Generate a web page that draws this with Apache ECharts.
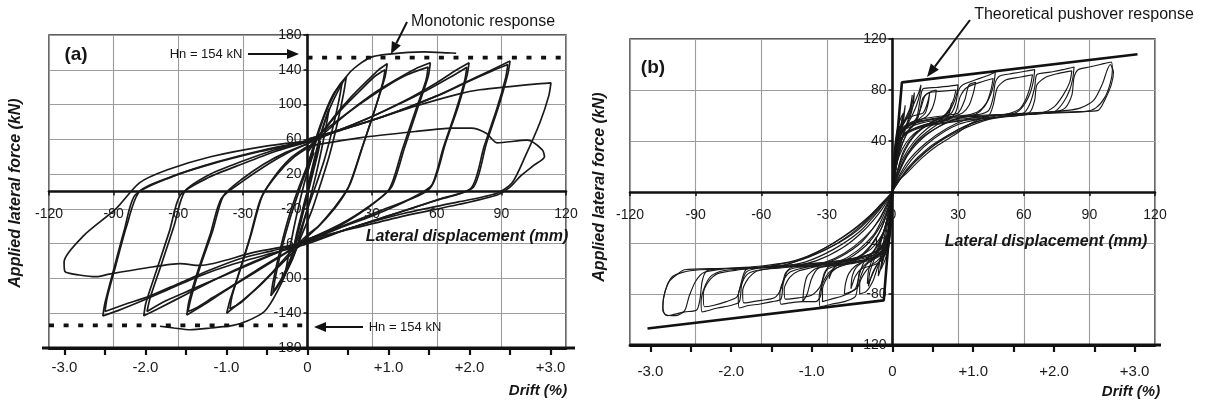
<!DOCTYPE html>
<html>
<head>
<meta charset="utf-8">
<script src="https://cdn.jsdelivr.net/npm/echarts@6.0.0/dist/echarts.min.js"></script>
<style>
  html, body { margin: 0; padding: 0; background: #fff; }
  #chart { width: 1208px; height: 404px; }
</style>
</head>
<body>
<div id="chart"></div>
<script>
// ---------- Axis ticks ----------
const dispTicksMm = [-120, -90, -60, -30, 0, 30, 60, 90, 120];
const forceTicksA = [-180, -140, -100, -60, -20, 20, 60, 100, 140, 180];
const forceTicksB = [-120, -80, -40, 0, 40, 80, 120];
const driftTicks = [-3, -2.5, -2, -1.5, -1, -0.5, 0, 0.5, 1, 1.5, 2, 2.5, 3];
const driftLabels = [-3, -2, -1, 0, 1, 2, 3];
const mmPerDriftA = 37.6;   // mm of lateral displacement per 1 % drift, wall (a)
const mmPerDriftB = 36.9;   // mm of lateral displacement per 1 % drift, wall (b)
const nominalCapacity = 154; // Hn, kN

// ---------- Wall (a): cyclic loops [displacement mm, force kN] ----------
const loopA_06 = [[0,0],[2,22],[4,42],[6,58],[5,46],[3,26],[1,6],[-1,-14],[-3,-34],[-5,-52],[-6,-60],[-5,-48],[-3,-28],[-1,-8],[0,0]];
const loopA_10 = [[0,5],[3,36],[6,65],[9,88],[10,95],[9,80],[6.5,48],[4,20],[1,-10],[-2,-38],[-5,-64],[-8,-82],[-10,-90],[-9,-76],[-6.5,-44],[-4,-16],[-1,14],[2,38],[3,45]];
const loopA_18 = [[0,22],[4,58],[8,88],[12,110],[15,123],[18,132],[17,116],[14,80],[10,40],[6,8],[2,-22],[-3,-52],[-7,-78],[-11,-98],[-14,-110],[-17,-120],[-16,-104],[-13,-70],[-9,-32],[-5,-2],[-1,24],[2,45],[5,65]];
const loopA_16 = [[0,28],[4,62],[8,90],[12,112],[16,125],[15,110],[12,76],[8,38],[4,8],[0,-20],[-4,-50],[-8,-78],[-12,-100],[-16,-116],[-15,-100],[-12,-66],[-8,-30],[-4,0],[0,28]];
const loopA_37 = [[0,45],[6,65],[12,85],[20,108],[28,128],[33,140],[37,147],[36,132],[32,100],[26,55],[20,10],[14,-15],[6,-38],[0,-52],[-6,-68],[-14,-88],[-22,-108],[-30,-125],[-35,-135],[-37.5,-140],[-36,-125],[-32,-95],[-27,-55],[-22,-10],[-16,15],[-8,38],[0,52]];
const loopA_36 = [[0,48],[8,72],[16,95],[24,115],[31,132],[36,140],[35,126],[31,92],[25,48],[19,5],[12,-20],[5,-40],[0,-50],[-8,-70],[-16,-92],[-24,-112],[-31,-128],[-36,-135],[-35,-120],[-31,-88],[-26,-48],[-21,-5],[-14,20],[-6,40],[0,50]];
const loopA_57 = [[0,50],[10,72],[20,93],[32,115],[42,130],[50,141],[57,148],[56,132],[51,95],[45,50],[39,5],[30,-15],[18,-35],[8,-48],[0,-55],[-10,-70],[-22,-88],[-34,-107],[-44,-122],[-51,-133],[-55.5,-138],[-54,-122],[-50,-88],[-44,-45],[-39,-5],[-30,15],[-20,32],[-10,45],[0,55]];
const loopA_56 = [[0,55],[12,78],[24,100],[36,120],[46,134],[56,143],[55,128],[50,92],[44,48],[38,3],[28,-18],[15,-38],[0,-56],[-12,-74],[-25,-94],[-38,-114],[-48,-130],[-56,-142],[-55,-126],[-51,-92],[-45,-48],[-40,-8],[-30,12],[-18,32],[-8,46],[0,55]];
const loopA_75 = [[0,55],[12,68],[24,80],[35,92],[48,108],[60,125],[68,138],[75,148],[74,133],[70,98],[64,55],[58,8],[48,-8],[34,-22],[18,-38],[0,-55],[-12,-68],[-25,-82],[-40,-98],[-55,-114],[-66,-126],[-74.5,-138],[-73,-122],[-68,-85],[-62,-40],[-57,0],[-45,20],[-30,35],[-15,48],[0,57]];
const loopA_74 = [[0,57],[14,70],[28,84],[42,100],[55,116],[66,131],[74,143],[73,128],[69,94],[63,50],[57,4],[45,-12],[30,-28],[15,-42],[0,-57],[-14,-70],[-28,-84],[-42,-100],[-56,-118],[-68,-133],[-76,-143],[-75,-128],[-70,-90],[-64,-45],[-59,-4],[-46,16],[-30,32],[-15,46],[0,57]];
const loopA_94 = [[0,58],[15,70],[30,82],[45,95],[60,110],[72,124],[84,138],[94,150],[93,135],[89,100],[83,55],[77,5],[62,-8],[45,-22],[25,-38],[0,-58],[-16,-68],[-31,-77],[-45,-90],[-60,-106],[-73,-120],[-85,-130],[-94,-138],[-93,-122],[-89,-85],[-84,-40],[-78,0],[-62,18],[-42,34],[-20,48],[0,58]];
const loopA_93 = [[0,60],[18,73],[35,86],[50,100],[64,114],[76,128],[86,139],[93,146],[92,131],[88,96],[82,52],[76,4],[60,-10],[40,-26],[20,-42],[0,-60],[-18,-72],[-35,-84],[-50,-97],[-64,-112],[-77,-126],[-88,-137],[-95,-143],[-94,-128],[-90,-90],[-85,-44],[-80,-4],[-64,16],[-44,32],[-22,46],[0,58]];
const loopA_113 = [[0,60],[25,78],[50,98],[70,112],[80,117],[95,121],[108,124],[113,125],[112,110],[108,80],[101,40],[95,10],[88,-2],[70,-12],[45,-25],[20,-42],[0,-58],[-25,-70],[-50,-85],[-59,-83],[-75,-88],[-92,-95],[-98,-98],[-106,-96],[-112.6,-92],[-113,-81],[-104,-51],[-89,-20],[-78,10],[-65,25],[-45,40],[-20,52],[0,58]];
const loopA_110 = [[0,52],[25,62],[50,69],[67,73],[76,73],[83,67],[88,56],[102,59],[109,48],[110,40],[105,30],[99,18],[94,5],[88,-4],[70,-15],[45,-28],[22,-42],[0,-55]];
const monotonicPos = [[0,0],[8,80],[14,115],[20,138],[29,154],[38,158],[54,160.5],[65,159.5],[69,159]];
const monotonicNeg = [[0,0],[-8,-80],[-14,-115],[-20,-138],[-28,-149],[-34.5,-154],[-45,-157],[-54.5,-159],[-62,-157],[-68.5,-155]];

// ---------- Wall (b): cyclic loops [displacement mm, force kN] ----------
const loopB_s1 = [[0,0],[0.5,15],[1.2,28],[1.8,36],[1.4,28],[0.8,15],[0.2,4],[-0.4,-10],[-1,-24],[-1.8,-36],[-1.4,-27],[-0.7,-13],[0,0]];
const loopB_s2 = [[0,0],[0.6,18],[1.5,33],[2.8,46],[3.2,52],[2.6,42],[1.6,26],[0.6,8],[0,0],[-0.6,-16],[-1.5,-31],[-2.8,-44],[-3.4,-50],[-2.8,-40],[-1.6,-22],[-0.6,-6],[0,0]];
const loopB_s3 = [[0,0],[0.7,20],[1.8,36],[3.5,50],[5,60],[5.8,68],[5.2,58],[3.8,44],[2,26],[0.6,6],[0,0],[-0.7,-18],[-1.8,-34],[-3.5,-48],[-5,-58],[-6.5,-66],[-6,-56],[-4.4,-42],[-2.4,-22],[-0.8,-6],[0,0]];
const loopB_s4 = [[0,0],[0.7,22],[2,38],[4,50],[6,58],[8,66],[9,76],[8.6,66],[7,56],[4.6,44],[2.4,27],[0.8,8],[0,0],[-0.7,-20],[-2,-36],[-4,-48],[-6.5,-56],[-9,-63],[-11,-74],[-10.5,-64],[-8.4,-53],[-5.6,-41],[-3,-25],[-1,-8],[0,0]];
const loopB_s5 = [[0,0],[0.5,20],[1.4,34],[3,46],[5,54],[7,60],[9,70],[10,78],[9.6,70],[8.4,61],[6.4,52],[4,40],[2,24],[0.5,6],[0,0],[-0.5,-18],[-1.4,-32],[-3,-44],[-5,-52],[-7.5,-58],[-9.5,-66],[-11.5,-72],[-11,-62],[-9.5,-54],[-7,-45],[-4.2,-33],[-2,-18],[-0.4,-4],[0,0]];
const loopB_s6 = [[0,0],[0.4,14],[1,26],[2,38],[3,46],[4,54],[4.5,60],[4,52],[3,40],[2,28],[0.9,14],[0,0],[-0.4,-14],[-1,-26],[-2,-36],[-3,-45],[-4.5,-54],[-5,-60],[-4.4,-50],[-3.4,-38],[-2,-22],[-0.8,-8],[0,0]];
const loopB_s7 = [[0,0],[0.3,18],[0.8,32],[1.6,44],[2.6,52],[3.8,58],[5,62],[4.4,55],[3.2,46],[2,36],[1,22],[0.3,8],[0,0],[-0.3,-16],[-0.8,-30],[-1.6,-42],[-2.8,-50],[-4,-56],[-5.5,-61],[-4.8,-53],[-3.4,-44],[-2,-32],[-0.9,-18],[-0.2,-5],[0,0]];
const loopB_s8 = [[0,0],[0.4,20],[1.2,36],[2.5,47],[4.5,54],[7,58],[10,60],[14,62],[16,70],[17,78],[16.4,70],[15,62],[12,57],[8,50],[4.5,38],[2,22],[0.5,7],[0,0],[-0.4,-18],[-1.2,-34],[-2.5,-45],[-4.5,-52],[-7,-56],[-10,-58],[-14,-60],[-17,-66],[-19,-76],[-18.4,-66],[-16.5,-59],[-13,-54],[-8.5,-46],[-4.5,-33],[-2,-18],[-0.5,-5],[0,0]];
const loopB_s9 = [[0,0],[1,16],[3,28],[6,38],[10,46],[16,52],[24,57],[26,62],[27,70],[26,64],[23,58],[16,50],[10,40],[5,27],[2,14],[0,0],[-1,-15],[-3,-27],[-6,-37],[-10,-45],[-16,-51],[-24,-55],[-27,-60],[-29,-68],[-28,-62],[-25,-57],[-18,-50],[-11,-40],[-5,-25],[-2,-12],[0,0]];
const loopB_13 = [[0,0],[0.8,24],[2,40],[4,50],[6,56],[8,62],[10,70],[12,78],[13,84],[12.5,77],[11,68],[9,60],[6,50],[3.5,36],[1.5,18],[0,0],[-0.8,-22],[-2,-38],[-4,-48],[-7,-54],[-10,-58],[-13,-64],[-15,-72],[-15,-80],[-12,-78],[-9,-70],[-7,-60],[-4.5,-48],[-2,-30],[-0.5,-10],[0,0]];
const loopB_20 = [[0,0],[0.7,22],[2,37],[4.5,47],[8,53],[11,57],[13,66],[15,76],[18,79],[20,80],[19.5,73],[18,65],[15.5,59],[11,55],[7,47],[3.5,33],[1,14],[0,0],[-0.7,-21],[-2,-36],[-4.5,-46],[-8,-52],[-12,-57],[-14.5,-66],[-16,-75],[-19,-78],[-22,-80],[-21.5,-72],[-20,-64],[-17,-58],[-12,-53],[-7,-43],[-3.5,-28],[-1,-10],[0,0]];
const loopB_30 = [[0,0],[0.8,22],[2.2,38],[5,48],[9,54],[11,58],[12,66],[13,76],[14,81],[20,82],[26,83],[30,84],[29.5,78],[28,70],[25.5,62],[22,58],[16,53],[10,45],[5,32],[2,15],[0,0],[-0.8,-20],[-2.2,-36],[-5,-46],[-9,-52],[-12,-56],[-15,-62],[-16,-74],[-17,-82],[-22,-86],[-28,-88],[-33,-90],[-33.5,-82],[-32,-72],[-29,-63],[-25,-59],[-18,-55],[-11,-45],[-6,-32],[-2,-14],[0,0]];
const loopB_29 = [[0,0],[0.9,20],[2.4,35],[5,45],[9,51],[11,55],[12.5,64],[14,74],[17,78],[23,79],[29,80],[28,73],[26,65],[23,59],[17,54],[10,44],[5,30],[1.5,12],[0,0],[-0.9,-19],[-2.4,-34],[-5,-44],[-9,-50],[-13,-55],[-15,-64],[-17,-76],[-22,-81],[-28,-84],[-32,-86],[-32,-76],[-29,-65],[-24,-58],[-17,-53],[-10,-42],[-5,-28],[-1.5,-11],[0,0]];
const loopB_38 = [[0,0],[0.6,24],[1.8,40],[4.5,50],[9,55],[16,58],[24,60],[30,62],[33,72],[35,84],[38,86],[37,78],[35,68],[32,62],[26,58],[18,50],[10,38],[4,20],[1,6],[0,0],[-0.6,-22],[-1.8,-38],[-4.5,-48],[-9,-53],[-18,-56],[-28,-58],[-34,-60],[-37,-68],[-39,-80],[-41,-86],[-40.5,-76],[-39,-66],[-35,-60],[-26,-56],[-16,-46],[-8,-32],[-3,-14],[0,0]];
const loopB_47 = [[0,0],[0.7,23],[2,39],[5,49],[10,54],[18,57],[24,59],[27,62],[29,70],[30,79],[32,84],[38,88],[43,91],[47,94],[46.5,87],[45,77],[42,67],[38,61],[31,58],[22,52],[13,42],[6,28],[2,12],[0,0],[-0.7,-21],[-2,-37],[-5,-47],[-10,-52],[-18,-55],[-26,-58],[-30,-61],[-32,-70],[-33,-82],[-35,-86],[-41,-86],[-47,-87],[-51,-88],[-51.5,-80],[-50,-70],[-47,-63],[-42,-60],[-32,-56],[-22,-48],[-13,-36],[-6,-22],[-2,-8],[0,0]];
const loopB_46 = [[0,0],[0.9,21],[2.4,36],[6,46],[12,51],[20,55],[26,57],[29,63],[31,75],[34,82],[40,86],[46,89],[45,80],[43,70],[39,63],[32,59],[24,54],[15,44],[7,29],[2,11],[0,0],[-0.9,-19],[-2.4,-34],[-6,-44],[-12,-50],[-20,-54],[-28,-57],[-31,-63],[-33,-74],[-37,-81],[-43,-83],[-49,-84],[-49.5,-76],[-47,-67],[-43,-62],[-34,-58],[-24,-51],[-14,-39],[-6,-21],[0,0]];
const loopB_65 = [[0,0],[0.7,24],[2,40],[5,50],[11,55],[20,58],[32,60],[40,61],[44,64],[46,74],[47,86],[49,91],[55,93],[60,94.5],[65,96],[64.5,88],[63,78],[60,68],[56,62],[47,60],[36,58],[25,50],[15,38],[7,24],[2,9],[0,0],[-0.7,-22],[-2,-38],[-5,-48],[-11,-53],[-20,-56],[-32,-58],[-43,-59],[-48,-62],[-50,-72],[-51,-84],[-55,-86],[-61,-88],[-66,-89],[-70,-91],[-70.5,-82],[-69,-72],[-66,-64],[-60,-61],[-48,-59],[-35,-54],[-23,-44],[-13,-30],[-5,-14],[0,0]];
const loopB_64 = [[0,0],[0.9,21],[2.4,36],[6,46],[13,52],[24,56],[36,58],[44,60],[46,68],[48,82],[52,88],[58,90],[64,92],[63,83],[61,73],[58,65],[52,61],[42,58],[30,53],[19,42],[10,28],[3,11],[0,0],[-0.9,-20],[-2.4,-35],[-6,-45],[-13,-51],[-24,-55],[-36,-57],[-46,-59],[-49,-64],[-51,-76],[-54,-83],[-60,-85],[-68,-87],[-68.5,-78],[-66,-68],[-62,-62],[-52,-59],[-40,-55],[-27,-45],[-15,-31],[-6,-14],[0,0]];
const loopB_83 = [[0,0],[0.6,24],[2,40],[5,50],[12,55],[24,58],[38,60],[52,61],[60,62],[63,70],[65,82],[66,92],[72,94],[78,96],[83,98],[82.5,90],[81,80],[78,70],[74,63],[64,61],[50,59],[38,55],[27,46],[16,34],[7,19],[2,6],[0,0],[-0.6,-22],[-2,-38],[-5,-48],[-12,-53],[-24,-56],[-38,-58],[-52,-59],[-62,-60],[-67,-63],[-69,-73],[-70,-86],[-74,-89],[-80,-91],[-87,-94],[-87.5,-86],[-86,-75],[-83,-66],[-78,-62],[-66,-60],[-52,-58],[-38,-51],[-25,-40],[-14,-26],[-5,-10],[0,0]];
const loopB_82 = [[0,0],[0.9,20],[2.6,35],[6,45],[14,51],[28,55],[44,58],[58,60],[63,63],[65,72],[66,84],[70,90],[76,93],[82,95],[81,86],[78,76],[74,67],[68,62],[56,60],[44,57],[33,50],[22,40],[12,27],[4,11],[0,0],[-0.9,-19],[-2.6,-34],[-6,-45],[-14,-51],[-28,-55],[-44,-57],[-60,-59],[-67,-61],[-69,-70],[-71,-82],[-76,-86],[-82,-89],[-86,-90],[-86.5,-80],[-84,-70],[-80,-64],[-70,-61],[-56,-58],[-42,-53],[-28,-43],[-16,-30],[-6,-13],[0,0]];
const loopB_100 = [[0,0],[0.6,22],[2,38],[5,48],[13,54],[28,58],[45,60],[62,62],[74,63],[79,66],[82,76],[83,90],[85,96],[90,98],[95,100],[100,102],[100.5,95],[99.5,85],[97,74],[93,66],[88,63],[75,62],[58,61],[44.6,60],[36,54],[29.5,46],[21,37],[14,27.5],[6,14],[0,4],[0,0],[-0.6,-20],[-2,-36],[-5,-46],[-13,-52],[-28,-56],[-45,-58],[-62,-59],[-78,-60],[-85,-62],[-87,-70],[-88,-84],[-89.5,-92.5],[-95,-94],[-100,-96],[-103,-97],[-105,-93],[-104.5,-82],[-102,-70],[-98,-64],[-95,-61],[-80,-60],[-65,-59.5],[-53,-59],[-38,-50],[-25,-38],[-13.5,-24],[-5,-9],[0,0]];
const loopB_101 = [[0,0],[0.8,20],[2.5,36],[6,46],[15,52],[30,56],[50,59],[70,62],[85,63],[94,64],[97,72],[100,84],[101,94],[99.5,100],[98,95],[96,85],[92,72],[86,66],[80,64],[66,62],[52,60],[40,56],[30,49],[20,38],[10,23],[3,9],[0,0],[-0.8,-19],[-2.5,-34],[-6,-45],[-15,-51],[-30,-55],[-50,-58],[-70,-60],[-88,-61],[-96,-63],[-101,-67],[-104,-78],[-105,-90],[-104,-96],[-99,-97],[-95,-93],[-93,-82],[-90,-70],[-86,-63],[-75,-60],[-60,-58],[-45,-54],[-32,-45],[-20,-32],[-10,-18],[-3,-6],[0,0]];
const pushoverB = [[-112,-107],[-4,-85],[0,0],[4.3,86],[112,108]];

// ---------- Chart ----------
const INK = '#1a1a1a';
const GRID_GREY = '#9c9c9c';
const FONT = '"Liberation Sans", Arial, Helvetica, sans-serif';

const loopsA = [loopA_06, loopA_10, loopA_18, loopA_16, loopA_37, loopA_36, loopA_57, loopA_56,
                loopA_75, loopA_74, loopA_94, loopA_93, loopA_113, loopA_110];
const loopsB = [loopB_s1, loopB_s2, loopB_s3, loopB_s4, loopB_s5, loopB_s6, loopB_s7, loopB_s8, loopB_s9,
                loopB_13, loopB_20, loopB_30, loopB_29, loopB_38, loopB_47, loopB_46,
                loopB_65, loopB_64, loopB_83, loopB_82, loopB_100, loopB_101];

// plot rectangles (pixels) of the two panels
const panelA = { left: 49, top: 35, width: 517, height: 313 };
const panelB = { left: 630, top: 39, width: 525, height: 306 };

const chart = echarts.init(document.getElementById('chart'), null, { renderer: 'canvas' });

function loopSeries(data, xi, yi, width) {
  return {
    type: 'line', xAxisIndex: xi, yAxisIndex: yi, data: data,
    showSymbol: false, symbol: 'none', smooth: 0.25, silent: true,
    lineStyle: { color: INK, width: width }, z: 3
  };
}

// the displacement axis sits on the zero-force line: shift it up from the bottom edge
function mmAxis(gridIndex, panel, ticksY, hideZero) {
  const yMin = ticksY[0], yMax = ticksY[ticksY.length - 1];
  const zeroFromBottom = panel.height * (0 - yMin) / (yMax - yMin);
  return {
    type: 'value', gridIndex: gridIndex, min: dispTicksMm[0], max: dispTicksMm[dispTicksMm.length - 1],
    interval: dispTicksMm[1] - dispTicksMm[0], position: 'bottom', offset: -zeroFromBottom,
    axisLine: { show: true, onZero: false, lineStyle: { color: '#111', width: 2.6 } },
    axisTick: { show: true, length: 4, lineStyle: { color: '#111', width: 1.5 } },
    axisLabel: {
      margin: 16, fontSize: 14, color: '#1a1a1a', fontFamily: FONT,
      formatter: v => (hideZero && v === 0) ? '' : String(v)
    },
    splitLine: { show: true, lineStyle: { color: GRID_GREY, width: 1.1 } }
  };
}

function driftAxis(gridIndex, mmPerDrift, margin) {
  const lim = dispTicksMm[dispTicksMm.length - 1] / mmPerDrift;
  return {
    type: 'value', gridIndex: gridIndex, min: -lim, max: lim, position: 'bottom',
    axisLine: { show: true, onZero: false, lineStyle: { color: '#111', width: 2.8 } },
    axisTick: { show: true, length: 7, customValues: driftTicks, lineStyle: { color: '#111', width: 2.2 } },
    axisLabel: {
      margin: margin, fontSize: 15, color: '#1a1a1a', fontFamily: FONT, customValues: driftLabels,
      formatter: v => v === 0 ? '0' : (v > 0 ? '+' + v.toFixed(1) : v.toFixed(1))
    },
    splitLine: { show: false }
  };
}

// the force axis sits on the zero-displacement line: shift it right from the left edge
function forceAxis(gridIndex, panel, ticks, hideZero) {
  const xMin = dispTicksMm[0], xMax = dispTicksMm[dispTicksMm.length - 1];
  const zeroFromLeft = panel.width * (0 - xMin) / (xMax - xMin);
  return {
    type: 'value', gridIndex: gridIndex, min: ticks[0], max: ticks[ticks.length - 1],
    interval: ticks[1] - ticks[0], position: 'left', offset: -zeroFromLeft,
    axisLine: { show: true, onZero: false, lineStyle: { color: '#111', width: 2.6 } },
    axisTick: { show: true, length: 4, lineStyle: { color: '#111', width: 1.5 } },
    axisLabel: {
      margin: 6, fontSize: 14, color: '#1a1a1a', fontFamily: FONT,
      formatter: v => (hideZero && v === 0) ? '' : String(v)
    },
    splitLine: { show: true, lineStyle: { color: GRID_GREY, width: 1.1 } }
  };
}

function arrow(x1, y1, x2, y2, len, half) {
  const a = Math.atan2(y2 - y1, x2 - x1);
  const bx = x2 - len * Math.cos(a), by = y2 - len * Math.sin(a);
  const nx = -Math.sin(a) * half, ny = Math.cos(a) * half;
  return [
    { type: 'line', silent: true, shape: { x1: x1, y1: y1, x2: bx, y2: by }, style: { stroke: '#111', lineWidth: 2 }, z: 10 },
    { type: 'polygon', silent: true, shape: { points: [[x2, y2], [bx + nx, by + ny], [bx - nx, by - ny]] }, style: { fill: '#111' }, z: 10 }
  ];
}

function text(x, y, str, font, opts) {
  return Object.assign({
    type: 'text', x: x, y: y, silent: true, z: 10,
    style: { text: str, font: font, fill: '#161616', align: 'center', verticalAlign: 'middle' }
  }, opts || {});
}

// drift base lines run a little past the plot frame
function baseLine(x1, x2, y) {
  return { type: 'line', silent: true, z: 9, shape: { x1: x1, y1: y, x2: x2, y2: y }, style: { stroke: '#111', lineWidth: 2.8 } };
}

const titleFont = 'italic bold 16px ' + FONT;

const series = [];
loopsA.forEach(d => series.push(loopSeries(d, 0, 0, 1.7)));
series.push(loopSeries(monotonicPos, 0, 0, 1.7));
series.push(loopSeries(monotonicNeg, 0, 0, 1.7));
series.push({
  type: 'line', xAxisIndex: 0, yAxisIndex: 0, showSymbol: false, silent: true, z: 4,
  data: [[0, nominalCapacity], [dispTicksMm[dispTicksMm.length - 1], nominalCapacity]],
  lineStyle: { color: '#111', width: 3.6, type: [5, 9.6] }
});
series.push({
  type: 'line', xAxisIndex: 0, yAxisIndex: 0, showSymbol: false, silent: true, z: 4,
  data: [[dispTicksMm[0], -nominalCapacity], [0, -nominalCapacity]],
  lineStyle: { color: '#111', width: 3.6, type: [5, 9.6] }
});
loopsB.forEach(d => series.push(loopSeries(d, 2, 1, 1.15)));
series.push({
  type: 'line', xAxisIndex: 2, yAxisIndex: 1, data: pushoverB, showSymbol: false, silent: true, z: 5,
  lineStyle: { color: '#111', width: 2.6 }
});

const option = {
  animation: false,
  backgroundColor: '#ffffff',
  grid: [
    Object.assign({ show: true, borderColor: '#2a2a2a', borderWidth: 1.4, backgroundColor: 'transparent' }, panelA),
    Object.assign({ show: true, borderColor: '#2a2a2a', borderWidth: 1.4, backgroundColor: 'transparent' }, panelB)
  ],
  xAxis: [
    mmAxis(0, panelA, forceTicksA, true),
    driftAxis(0, mmPerDriftA, 12),
    mmAxis(1, panelB, forceTicksB, false),
    driftAxis(1, mmPerDriftB, 19)
  ],
  yAxis: [
    forceAxis(0, panelA, forceTicksA, false),
    forceAxis(1, panelB, forceTicksB, true)
  ],
  series: series,
  graphic: [
    baseLine(42, 575, panelA.top + panelA.height),
    baseLine(panelB.left, 1161, panelB.top + panelB.height),
    text(76, 55, '(a)', 'bold 19px ' + FONT),
    text(653, 68, '(b)', 'bold 19px ' + FONT),
    text(206, 54, 'Hn = 154 kN', '13px ' + FONT),
    ...arrow(248, 54, 299, 54, 12, 5),
    text(405, 327, 'Hn = 154 kN', '13px ' + FONT),
    ...arrow(363, 327, 314, 327, 12, 5),
    text(483, 22, 'Monotonic response', '16px ' + FONT),
    ...arrow(407, 22, 391, 54, 12, 5),
    text(1084, 15, 'Theoretical pushover response', '16px ' + FONT),
    ...arrow(970, 20, 927, 77, 13, 5),
    text(467, 237, 'Lateral displacement (mm)', titleFont),
    text(1046, 242, 'Lateral displacement (mm)', titleFont),
    text(538, 391, 'Drift (%)', 'italic bold 15px ' + FONT),
    text(1131, 392, 'Drift (%)', 'italic bold 15px ' + FONT),
    text(16, 193, 'Applied lateral force (kN)', titleFont, { rotation: Math.PI / 2 }),
    text(600, 187, 'Applied lateral force (kN)', titleFont, { rotation: Math.PI / 2 })
  ]
};

chart.setOption(option);
</script>
</body>
</html>
